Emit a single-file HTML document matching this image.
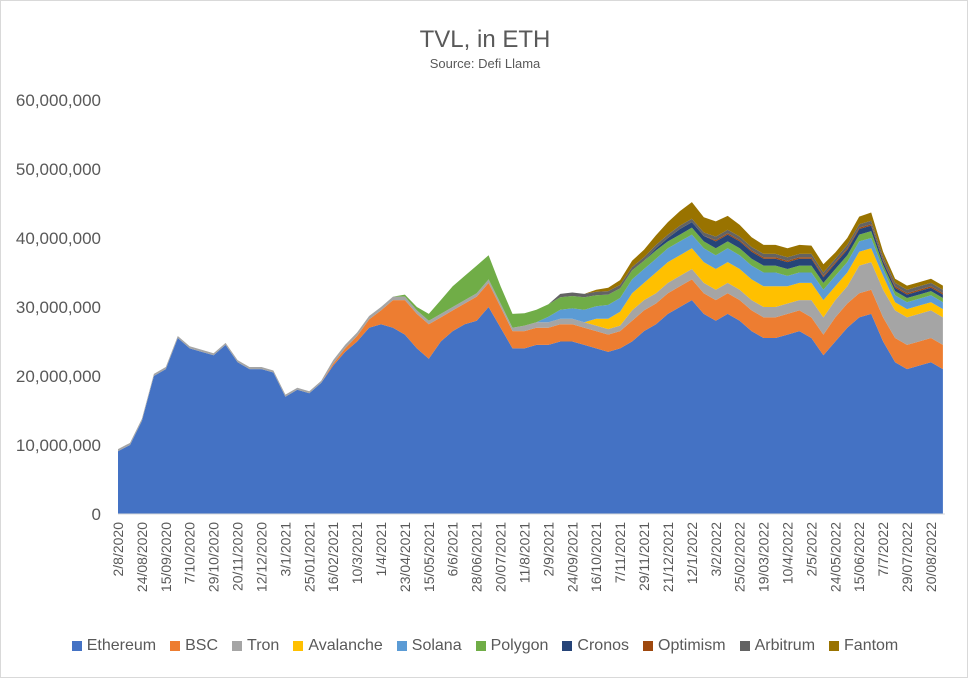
<!DOCTYPE html>
<html><head><meta charset="utf-8">
<style>
body{margin:0;background:#fff;font-family:"Liberation Sans",sans-serif;}
#wrap{position:relative;width:968px;height:678px;box-sizing:border-box;border:1px solid #d9d9d9;}
svg{position:absolute;left:0;top:0;}
#legend{position:absolute;left:0;top:636px;width:968px;display:flex;justify-content:center;gap:14px;font-size:16px;color:#595959;}
.li{display:flex;align-items:center;gap:5px;}
.sw{width:10px;height:10px;display:inline-block;}
</style></head><body>
<div id="wrap">
<svg id="chart" width="968" height="678">
<text x="484" y="46" text-anchor="middle" font-size="24" fill="#595959">TVL, in ETH</text>
<text x="484" y="67" text-anchor="middle" font-size="13" fill="#595959">Source: Defi Llama</text>
<g id="yaxis"></g>
<g id="areas"></g>
<line x1="117" y1="513" x2="944" y2="513" stroke="#d9d9d9" stroke-width="1"/>
<g id="xaxis"></g>
</svg>
<div id="legend"></div>
</div>
<script>
const seriesNames=["Ethereum","BSC","Tron","Avalanche","Solana","Polygon","Cronos","Optimism","Arbitrum","Fantom"];
const seriesColors=["#4472C4","#ED7D31","#A5A5A5","#FFC000","#5B9BD5","#70AD47","#264478","#9E480E","#636363","#997300"];
const dayStep=11;
const ethereum=[9.1,10,13.5,20,21,25.5,24,23.5,23,24.5,22,21,21,20.5,17,18,17.5,19,21.5,23.5,25,27,27.5,27,26,24,22.5,25,26.5,27.5,28,30,27,24,24,24.5,24.5,25,25,24.5,24,23.5,24,25,26.5,27.5,29,30,31,29,28,29,28,26.5,25.5,25.5,26,26.5,25.5,23,25,27,28.5,29,25,22,21,21.5,22,21];
const bsc=[0,0,0,0,0,0,0,0,0,0,0,0,0,0,0,0,0,0,0.3,0.5,0.8,1.2,2,4,5,5,5,3.5,3,3,3.5,3.5,3,2.5,2.5,2.5,2.5,2.5,2.5,2.5,2.5,2.5,2.5,3,3,3,3,3,3,3,3,3,3,3,3,3,3,3,3,3,3.5,3.5,3.5,3.5,3.5,3.5,3.5,3.5,3.5,3.5];
const tron=[0.3,0.3,0.3,0.3,0.3,0.3,0.3,0.3,0.3,0.3,0.3,0.3,0.3,0.3,0.3,0.3,0.3,0.3,0.5,0.5,0.5,0.5,0.5,0.5,0.5,0.5,0.5,0.5,0.5,0.5,0.5,0.5,0.5,0.5,0.8,0.8,0.8,0.8,0.8,0.8,0.8,0.8,0.8,1.5,1.5,1.5,1.5,1.5,1.5,1.5,1.5,1.5,1.5,1.5,1.5,1.5,1.5,1.5,2.5,2.5,2.5,2.5,4,4,4,4,4,4,4,4];
const avalanche=[0,0,0,0,0,0,0,0,0,0,0,0,0,0,0,0,0,0,0,0,0,0,0,0,0,0,0,0,0,0,0,0,0,0,0,0,0,0,0,0,1,1.5,2,2.5,2.5,3,3,3,3,3,3,3,3,3,3,3,2.5,2.5,2.5,2.5,2,2,2,2,2,1.2,1.2,1.2,1.2,1.2];
const solana=[0,0,0,0,0,0,0,0,0,0,0,0,0,0,0,0,0,0,0,0,0,0,0,0,0,0,0,0,0,0,0,0,0,0,0,0,0.8,1.3,1.5,1.8,1.8,2,2,2,2,2,2,2,2,2,2,2,2,2,2,2,1.5,1.5,1.5,1.5,1.5,1.5,1.5,1.5,1,1,1,1,1,1];
const polygon=[0,0,0,0,0,0,0,0,0,0,0,0,0,0,0,0,0,0,0,0,0,0,0,0,0.3,0.5,1,2,3,3.5,4,3.5,2.5,2,1.8,1.8,1.8,1.8,1.8,1.8,1.6,1.5,1.4,1.3,1.2,1.2,1,1,1,1,1,1,1,1,1,1,1,1,1,1,1,1,1,1,0.6,0.6,0.6,0.6,0.6,0.6];
const cronos=[0,0,0,0,0,0,0,0,0,0,0,0,0,0,0,0,0,0,0,0,0,0,0,0,0,0,0,0,0,0,0,0,0,0,0,0,0,0,0,0,0,0,0,0,0,0.3,0.5,0.8,0.8,0.8,1,1,1,1,1,1,1,1,1,0.8,0.8,0.8,0.8,0.8,0.5,0.5,0.5,0.5,0.5,0.5];
const optimism=[0,0,0,0,0,0,0,0,0,0,0,0,0,0,0,0,0,0,0,0,0,0,0,0,0,0,0,0,0,0,0,0,0,0,0,0,0,0,0,0,0,0,0,0,0,0,0,0,0,0,0.2,0.2,0.2,0.2,0.2,0.2,0.2,0.2,0.2,0.2,0.2,0.2,0.2,0.2,0.2,0.2,0.2,0.2,0.2,0.2];
const arbitrum=[0,0,0,0,0,0,0,0,0,0,0,0,0,0,0,0,0,0,0,0,0,0,0,0,0,0,0,0,0,0,0,0,0,0,0,0,0,0.5,0.5,0.5,0.5,0.5,0.5,0.5,0.5,0.5,0.5,0.5,0.5,0.5,0.5,0.5,0.5,0.5,0.5,0.5,0.5,0.5,0.5,0.5,0.5,0.5,0.5,0.5,0.5,0.5,0.5,0.5,0.5,0.5];
const fantom=[0,0,0,0,0,0,0,0,0,0,0,0,0,0,0,0,0,0,0,0,0,0,0,0,0,0,0,0,0,0,0,0,0,0,0,0,0,0,0,0,0.3,0.5,0.7,0.9,1.1,1.4,1.8,2.1,2.4,2.2,2.2,2,1.7,1.4,1.3,1.3,1.3,1.3,1.2,1.2,0.9,1,1.1,1.2,0.7,0.6,0.6,0.6,0.6,0.6];
const yTicks=[0,10,20,30,40,50,60];
const yTickLabels=["0","10,000,000","20,000,000","30,000,000","40,000,000","50,000,000","60,000,000"];
const xTickLabels=["2/8/2020","24/08/2020","15/09/2020","7/10/2020","29/10/2020","20/11/2020","12/12/2020","3/1/2021","25/01/2021","16/02/2021","10/3/2021","1/4/2021","23/04/2021","15/05/2021","6/6/2021","28/06/2021","20/07/2021","11/8/2021","2/9/2021","24/09/2021","16/10/2021","7/11/2021","29/11/2021","21/12/2021","12/1/2022","3/2/2022","25/02/2022","19/03/2022","10/4/2022","2/5/2022","24/05/2022","15/06/2022","7/7/2022","29/07/2022","20/08/2022"];
const xTickDayStep=22;

const series=[ethereum,bsc,tron,avalanche,solana,polygon,cronos,optimism,arbitrum,fantom];
const NS="http://www.w3.org/2000/svg";
const X=d=>117+d*(826/760);
const Y=v=>513-v*(414/60);
const ya=document.getElementById('yaxis');
yTicks.forEach((t,i)=>{
  const tx=document.createElementNS(NS,'text');
  tx.setAttribute('x',100);tx.setAttribute('y',Y(t)+6);
  tx.setAttribute('text-anchor','end');tx.setAttribute('font-size','17');tx.setAttribute('fill','#595959');
  tx.textContent=yTickLabels[i];
  
  
  ya.appendChild(tx);
});
const ar=document.getElementById('areas');
const n=ethereum.length;
let base=new Array(n).fill(0);
series.forEach((s,k)=>{
  const top=base.map((b,i)=>b+s[i]);
  let d='';
  for(let i=0;i<n;i++) d+=(i?'L':'M')+X(i*dayStep).toFixed(1)+' '+Y(top[i]).toFixed(1);
  for(let i=n-1;i>=0;i--) d+='L'+X(i*dayStep).toFixed(1)+' '+Y(base[i]).toFixed(1);
  d+='Z';
  const p=document.createElementNS(NS,'path');
  p.setAttribute('d',d);p.setAttribute('fill',seriesColors[k]);
  
  
  ar.appendChild(p);
  base=top;
});
const xa=document.getElementById('xaxis');
xTickLabels.forEach((l,i)=>{
  const x=X(i*xTickDayStep)+5;
  const tx=document.createElementNS(NS,'text');
  tx.setAttribute('transform','translate('+x.toFixed(1)+',521) rotate(-90)');
  tx.setAttribute('text-anchor','end');tx.setAttribute('font-size','14');tx.setAttribute('fill','#595959');
  tx.textContent=l;
  
  
  xa.appendChild(tx);
});
const lg=document.getElementById('legend');
seriesNames.forEach((nm,k)=>{
  const it=document.createElement('div');it.className='li';
  
  
  it.innerHTML='<span class="sw" style="background:'+seriesColors[k]+'"></span>'+nm;
  lg.appendChild(it);
});
</script>
</body></html>
